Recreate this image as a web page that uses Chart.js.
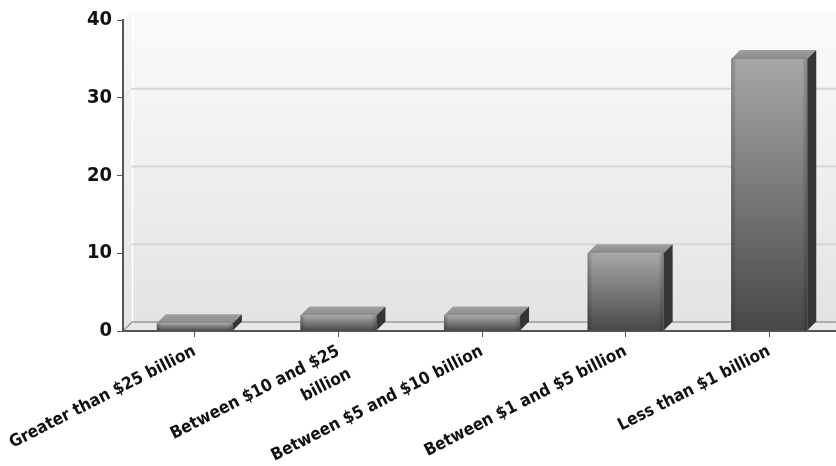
<!DOCTYPE html>
<html>
<head>
<meta charset="utf-8">
<script src="https://cdn.jsdelivr.net/npm/chart.js@4.4.1/dist/chart.umd.min.js"></script>
<style>
  html, body { margin: 0; padding: 0; background: #ffffff; overflow: hidden; }
  #wrap { width: 836px; height: 466px; overflow: hidden; }
  canvas { display: block; }
</style>
</head>
<body>
<div id="wrap"><canvas id="chart" width="846" height="466"></canvas></div>
<script>
// Company size bands and how many companies fall in each
const categories = [
  'Greater than $25 billion',
  ['Between $10 and $25', 'billion'],
  'Between $5 and $10 billion',
  'Between $1 and $5 billion',
  'Less than $1 billion'
];
const companyCounts = [1, 2, 2, 10, 35];
const yMin = 0;
const yMax = 40;
const yStep = 10;

// depth of the pseudo-3D extrusion (pixels)
const DEPTH_X = 9;
const DEPTH_Y = 9;

const FONT_FAMILY = '"DejaVu Sans Condensed", "DejaVu Sans", sans-serif';

// Narrow lettering for all canvas text
const narrowTextPlugin = {
  id: 'narrowText',
  beforeInit(chart) { chart.ctx.fontStretch = 'condensed'; },
  beforeDraw(chart) { chart.ctx.fontStretch = 'condensed'; }
};

// Back wall, left wall, floor and wall grid lines
const wallsPlugin = {
  id: 'walls',
  beforeDraw(chart) {
    const { ctx, chartArea: a, scales } = chart;
    const y = scales.y;
    ctx.save();
    // back wall
    const g = ctx.createLinearGradient(0, a.top - DEPTH_Y, 0, a.bottom - DEPTH_Y);
    g.addColorStop(0, '#fbfbfb');
    g.addColorStop(1, '#e3e3e3');
    ctx.fillStyle = g;
    ctx.fillRect(a.left + DEPTH_X, a.top - DEPTH_Y, a.right - a.left, a.bottom - a.top);
    // left wall
    const lg = ctx.createLinearGradient(0, a.top, 0, a.bottom);
    lg.addColorStop(0, '#f6f6f6');
    lg.addColorStop(1, '#e4e4e4');
    ctx.fillStyle = lg;
    ctx.beginPath();
    ctx.moveTo(a.left, a.top);
    ctx.lineTo(a.left + DEPTH_X, a.top - DEPTH_Y);
    ctx.lineTo(a.left + DEPTH_X, a.bottom - DEPTH_Y);
    ctx.lineTo(a.left, a.bottom);
    ctx.closePath();
    ctx.fill();
    // floor
    ctx.fillStyle = '#e8e8e8';
    ctx.beginPath();
    ctx.moveTo(a.left, a.bottom);
    ctx.lineTo(a.left + DEPTH_X, a.bottom - DEPTH_Y);
    ctx.lineTo(a.right + DEPTH_X, a.bottom - DEPTH_Y);
    ctx.lineTo(a.right, a.bottom);
    ctx.closePath();
    ctx.fill();
    // highlight along the back wall's left edge
    ctx.strokeStyle = '#ffffff';
    ctx.lineWidth = 1.5;
    ctx.beginPath();
    ctx.moveTo(a.left + DEPTH_X + 0.5, a.top - DEPTH_Y);
    ctx.lineTo(a.left + DEPTH_X + 0.5, a.bottom - DEPTH_Y);
    ctx.stroke();
    // grid lines on the back wall + diagonals on the left wall
    y.ticks.forEach(t => {
      if (t.value === yMin || t.value === yMax) return;
      const py = y.getPixelForValue(t.value);
      ctx.strokeStyle = '#d6d6d6';
      ctx.lineWidth = 2;
      ctx.beginPath();
      ctx.moveTo(a.left + DEPTH_X, py - DEPTH_Y);
      ctx.lineTo(a.right + DEPTH_X, py - DEPTH_Y);
      ctx.stroke();
      ctx.strokeStyle = '#e0e0e0';
      ctx.lineWidth = 1;
      ctx.beginPath();
      ctx.moveTo(a.left, py);
      ctx.lineTo(a.left + DEPTH_X, py - DEPTH_Y);
      ctx.stroke();
    });
    // back edge of the floor
    const p0 = y.getPixelForValue(yMin);
    ctx.strokeStyle = '#9a9a9a';
    ctx.lineWidth = 1.5;
    ctx.beginPath();
    ctx.moveTo(a.left, p0);
    ctx.lineTo(a.left + DEPTH_X, p0 - DEPTH_Y);
    ctx.lineTo(a.right + DEPTH_X, p0 - DEPTH_Y);
    ctx.stroke();
    ctx.restore();
  }
};

// Top and side faces for each bar, taken from the bar elements' geometry
const extrudePlugin = {
  id: 'extrude',
  afterDatasetsDraw(chart) {
    const { ctx } = chart;
    const meta = chart.getDatasetMeta(0);
    ctx.save();
    meta.data.forEach(bar => {
      const { x, y, base, width } = bar.getProps(['x', 'y', 'base', 'width'], true);
      const l = x - width / 2, r = x + width / 2;
      // top face
      const tg = ctx.createLinearGradient(0, y - DEPTH_Y, 0, y);
      tg.addColorStop(0, '#a0a0a0');
      tg.addColorStop(1, '#8a8a8a');
      ctx.fillStyle = tg;
      ctx.beginPath();
      ctx.moveTo(l, y);
      ctx.lineTo(l + DEPTH_X, y - DEPTH_Y);
      ctx.lineTo(r + DEPTH_X, y - DEPTH_Y);
      ctx.lineTo(r, y);
      ctx.closePath();
      ctx.fill();
      // right side face
      ctx.fillStyle = '#353535';
      ctx.beginPath();
      ctx.moveTo(r, y);
      ctx.lineTo(r + DEPTH_X, y - DEPTH_Y);
      ctx.lineTo(r + DEPTH_X, base - DEPTH_Y);
      ctx.lineTo(r, base);
      ctx.closePath();
      ctx.fill();
      // soft bevel on the front face edges
      const eg = ctx.createLinearGradient(l, 0, r, 0);
      eg.addColorStop(0, 'rgba(0,0,0,0.22)');
      eg.addColorStop(0.07, 'rgba(0,0,0,0)');
      eg.addColorStop(0.93, 'rgba(0,0,0,0)');
      eg.addColorStop(1, 'rgba(0,0,0,0.22)');
      ctx.fillStyle = eg;
      ctx.fillRect(l, y, width, base - y);
    });
    ctx.restore();
  }
};

// Vertical shading of each bar's front face, from its own top to the baseline
function frontFaceFill(c) {
  if (c.type !== 'data') return '#777777';
  const ys = c.chart.scales && c.chart.scales.y;
  if (!ys) return '#777777';
  const top = ys.getPixelForValue(c.raw);
  const base = ys.getPixelForValue(yMin);
  if (!isFinite(top) || !isFinite(base) || top === base) return '#777777';
  const g = c.chart.ctx.createLinearGradient(0, top, 0, base);
  g.addColorStop(0, '#a7a7a7');
  g.addColorStop(1, '#484848');
  return g;
}

const ctx = document.getElementById('chart').getContext('2d');
ctx.fontStretch = 'condensed';
new Chart(ctx, {
  type: 'bar',
  data: {
    labels: categories,
    datasets: [{
      data: companyCounts,
      borderWidth: 0,
      barPercentage: 0.53,
      categoryPercentage: 1,
      backgroundColor: frontFaceFill
    }]
  },
  options: {
    responsive: false,
    animation: false,
    layout: { padding: { top: 20, right: 5, left: 0, bottom: 0 } },
    plugins: {
      legend: { display: false },
      tooltip: { enabled: false }
    },
    scales: {
      x: {
        offset: true,
        grid: {
          offset: false,
          drawOnChartArea: false,
          drawTicks: true,
          tickLength: 6,
          color: '#555555',
          lineWidth: 1
        },
        border: { display: true, color: '#555555', width: 2 },
        ticks: {
          minRotation: 27,
          maxRotation: 27,
          autoSkip: false,
          padding: 2,
          color: '#111111',
          font: { family: FONT_FAMILY, size: 17, weight: 'bold', lineHeight: 1.5 }
        },
        afterFit: (s) => {
          s.height = 135;
          s.paddingLeft = 0;
          s.paddingRight = 0;
        }
      },
      y: {
        min: yMin,
        max: yMax,
        ticks: {
          stepSize: yStep,
          padding: 5,
          color: '#111111',
          font: { family: FONT_FAMILY, size: 20, weight: 'bold' }
        },
        grid: {
          drawOnChartArea: false,
          drawTicks: true,
          tickLength: 6,
          color: '#555555'
        },
        border: { display: true, color: '#555555', width: 2 },
        afterFit: (s) => {
          s.width = 123;
          s.paddingTop = 0;
          s.paddingBottom = 0;
        }
      }
    }
  },
  plugins: [narrowTextPlugin, wallsPlugin, extrudePlugin]
});
</script>
</body>
</html>
